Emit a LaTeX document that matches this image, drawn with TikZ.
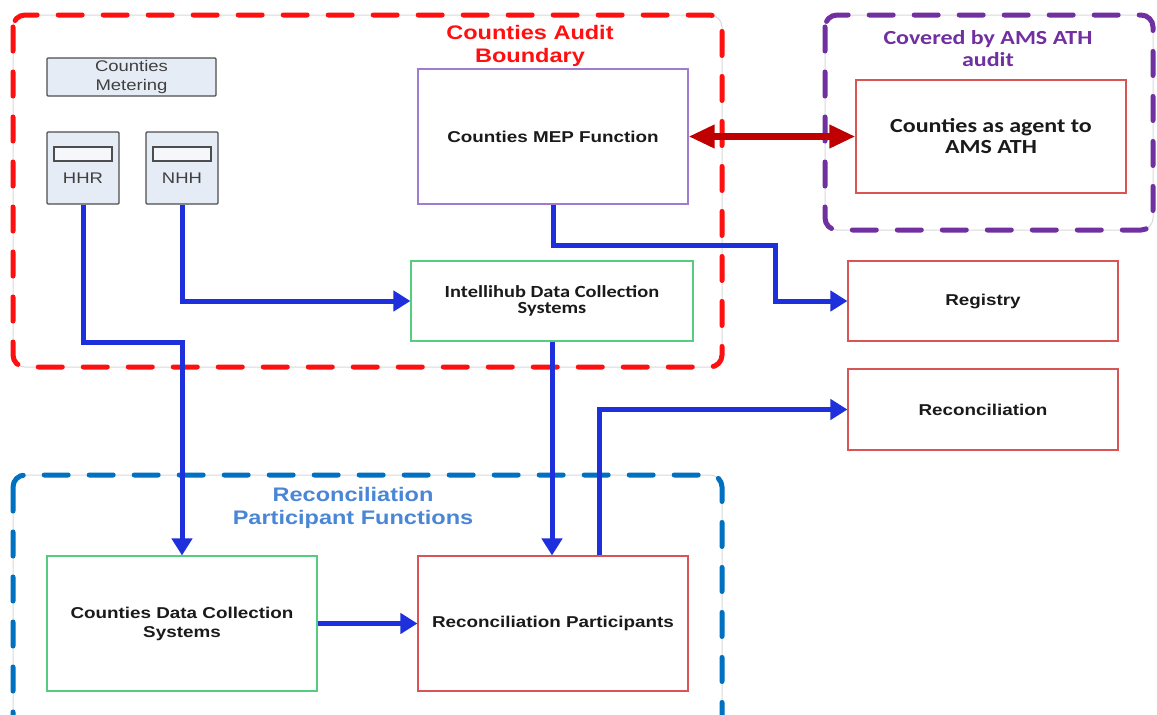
\documentclass[tikz,border=0pt]{standalone}
\usepackage{fontspec}
\newfontfamily\arlfont{Liberation Sans}[FakeStretch=1.2]
\newfontfamily\calfont{Carlito}[FakeStretch=1.2]
\usetikzlibrary{arrows.meta}
\definecolor{bred}{HTML}{FF1010}
\definecolor{bpurple}{HTML}{7030A0}
\definecolor{bblue}{HTML}{0070C0}
\definecolor{tblue}{HTML}{4A86D6}
\definecolor{arrblue}{HTML}{1E2FDC}
\definecolor{dred}{HTML}{C00000}
\definecolor{edgepurple}{HTML}{A07CD0}
\definecolor{edgered}{HTML}{D85555}
\definecolor{edgegreen}{HTML}{55CC80}
\definecolor{meterfill}{HTML}{E6ECF5}
\definecolor{meteredge}{HTML}{4D4D4D}
\definecolor{metertxt}{HTML}{404040}
\definecolor{txt}{HTML}{1A1A1A}
\tikzset{
  ghost/.style={draw=black!15, line width=1pt, rounded corners=12pt},
  dashbound/.style={line width=5pt, dash pattern=on 24pt off 21pt, line cap=round, rounded corners=12pt},
  fbox/.style={draw, line width=1.1pt, fill=white, text=txt, align=center, inner sep=0pt,
               minimum width=270pt, font=\arlfont\bfseries\fontsize{15.7}{19}\selectfont},
  calbox/.style={fbox, font=\calfont\bfseries\fontsize{17}{16.5}\selectfont},
  meterbox/.style={draw=meteredge, fill=meterfill, line width=1.3pt, rounded corners=1pt,
               inner sep=0pt, text=metertxt, align=center, font=\arlfont\fontsize{15.4}{19}\selectfont},
  metertext/.style={text=metertxt, inner sep=0pt, font=\arlfont\fontsize{15.4}{19}\selectfont},
  flow/.style={draw=arrblue, line width=5pt, -{Triangle[width=20pt,length=17pt]}},
  dblflow/.style={draw=dred, line width=7pt, {Triangle[width=22pt,length=26pt]}-{Triangle[width=22pt,length=26pt]}},
  ttl/.style={align=center, inner sep=0pt, font=\arlfont\bfseries\fontsize{19.6}{22.5}\selectfont},
}
\begin{document}
\begin{tikzpicture}[x=1pt,y=-1pt]
\useasboundingbox[fill=white] (0,0) rectangle (1157,715);
% boundaries
\draw[ghost] (13,15) rectangle (722,367);
\draw[dashbound, draw=bred] (13,15) rectangle (722,367);
\draw[ghost] (825,15) rectangle (1153,230);
\draw[dashbound, draw=bpurple] (825,15) rectangle (1153,230);
\draw[ghost] (13,475) rectangle (722,730);
\draw[dashbound, draw=bblue] (13,475) rectangle (722,730);
% titles
\node[ttl, text=bred] (t1) at (530,46) {Counties Audit\\Boundary};
\node[ttl, text=bpurple, font=\calfont\bfseries\fontsize{20}{22}\selectfont] (t2) at (988,49) {Covered by AMS ATH\\audit};
\node[ttl, text=tblue] (t3) at (353,508) {Reconciliation\\Participant Functions};
% metering
\node[meterbox, minimum width=169pt, minimum height=38pt] (meter) at (131.5,77) {Counties\\Metering};
\node[meterbox, minimum width=72pt, minimum height=72pt] (hhr) at (83,168) {};
\node[meterbox, minimum width=72pt, minimum height=72pt] (nhh) at (182,168) {};
\draw[draw=meteredge, fill=white!60!meterfill, line width=1.2pt] (hhr.center) ++(-29,-21) rectangle ++(58,14);
\draw[draw=meteredge, fill=white!60!meterfill, line width=1.2pt] (nhh.center) ++(-29,-21) rectangle ++(58,14);
\node[metertext] (hhrt) at ([yshift=-10pt]hhr.center) {HHR};
\node[metertext] (nhht) at ([yshift=-10pt]nhh.center) {NHH};
% boxes
\node[fbox, draw=edgepurple, minimum height=135pt] (mep) at (553,136.5) {Counties MEP Function};
\node[calbox, draw=edgered, minimum height=113pt, font=\calfont\bfseries\fontsize{20}{21}\selectfont] (agent) at (991,136.5) {Counties as agent to\\AMS ATH};
\node[fbox, draw=edgered, minimum height=80pt] (reg) at (983,301) {Registry};
\node[fbox, draw=edgered, minimum height=81pt] (rec) at (983,409.5) {Reconciliation};
\node[calbox, draw=edgegreen, minimum width=282pt, minimum height=80pt] (ihub) at (552,301) {Intellihub Data Collection\\Systems};
\node[fbox, draw=edgegreen, minimum height=135pt] (cdc) at (182,623.5) {Counties Data Collection\\Systems};
\node[fbox, draw=edgered, minimum height=135pt] (rp) at (553,623.5) {Reconciliation Participants};
% connectors
\coordinate (hhrturn) at (83,342);
\coordinate (mepturn) at (775,245);
\draw[flow] (hhr.south) -- (hhrturn) -| (cdc.north);
\draw[flow] (nhh.south) |- (ihub.west);
\draw[flow] (mep.south) |- (mepturn) |- (reg.west);
\draw[flow] (ihub.south) -- (ihub.south |- rp.north);
\draw[flow] ([xshift=46pt]rp.north) |- (rec.west);
\draw[flow] (cdc.east) -- (rp.west);
\draw[dblflow] (mep.east) -- (agent.west);
\end{tikzpicture}
\end{document}
